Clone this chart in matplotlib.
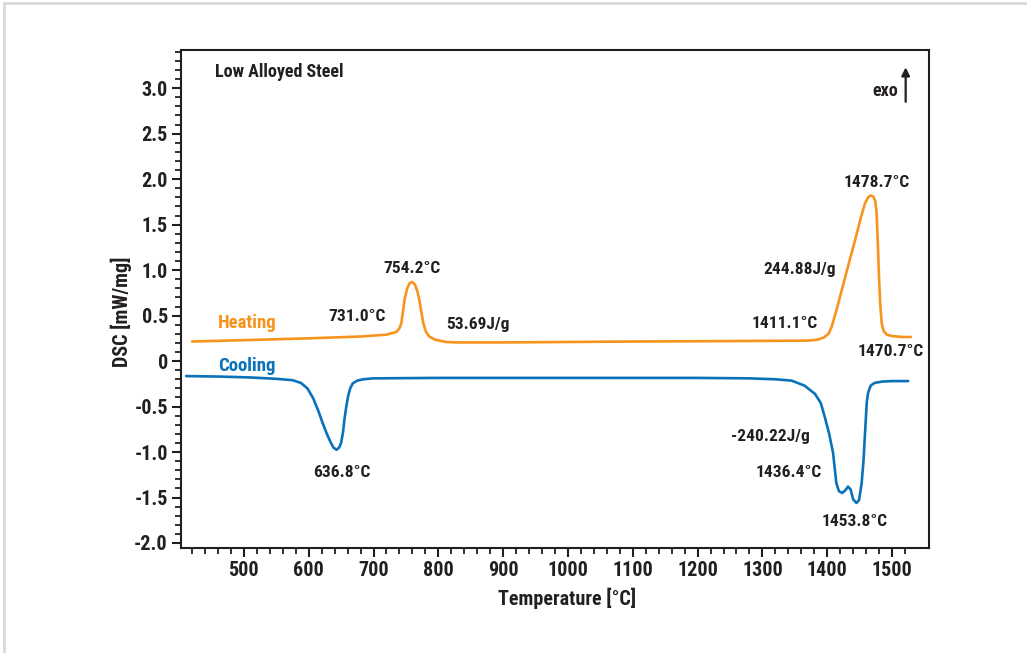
import matplotlib
matplotlib.use('Agg')
from matplotlib import pyplot as plt
from matplotlib.ticker import FuncFormatter
from matplotlib.lines import Line2D

plt.rcParams['font.family'] = ['Roboto Condensed', 'Fira Sans Condensed',
                               'DejaVu Sans']
plt.rcParams['font.weight'] = 'bold'
plt.rcParams['axes.labelweight'] = 'bold'

# heating curve (temperature, DSC)
heat_t = [420, 500, 600, 680, 720, 735, 740, 743, 745, 748, 752, 756, 760, 764,
          768, 771, 774, 777, 781, 786, 795, 812, 830, 900, 1000, 1100, 1200,
          1300, 1370, 1385, 1395, 1402, 1407, 1415, 1425, 1435, 1443, 1452,
          1458, 1463, 1467, 1471, 1474, 1476, 1478, 1480, 1482, 1484, 1487,
          1492, 1500, 1515, 1529]
heat_v = [0.215, 0.23, 0.25, 0.27, 0.29, 0.32, 0.36, 0.42, 0.52, 0.68, 0.80,
          0.86, 0.87, 0.84, 0.76, 0.66, 0.53, 0.41, 0.32, 0.27, 0.235, 0.21,
          0.205, 0.205, 0.21, 0.215, 0.218, 0.222, 0.225, 0.235, 0.26, 0.30,
          0.38, 0.58, 0.85, 1.12, 1.33, 1.58, 1.73, 1.80, 1.82, 1.81, 1.76,
          1.65, 1.30, 0.90, 0.60, 0.42, 0.33, 0.29, 0.275, 0.265, 0.265]

# cooling curve
cool_t = [411, 460, 510, 550, 575, 588, 598, 607, 615, 622, 628, 633, 638, 643,
          647, 650, 653, 655, 658, 661, 664, 668, 675, 684, 700, 800, 1000,
          1200, 1280, 1320, 1345, 1365, 1381, 1390, 1396, 1403, 1409, 1414,
          1418, 1423, 1428, 1432, 1436, 1440, 1445, 1449, 1453, 1456, 1459,
          1461, 1463, 1467, 1473, 1485, 1500, 1525]
cool_v = [-0.165, -0.17, -0.18, -0.195, -0.21, -0.24, -0.30, -0.41, -0.55,
          -0.69, -0.80, -0.88, -0.95, -0.975, -0.95, -0.90, -0.78, -0.65,
          -0.50, -0.38, -0.30, -0.245, -0.215, -0.20, -0.19, -0.185, -0.185,
          -0.185, -0.19, -0.20, -0.215, -0.27, -0.36, -0.46, -0.61, -0.80,
          -1.01, -1.34, -1.43, -1.45, -1.42, -1.38, -1.41, -1.52, -1.56,
          -1.53, -1.35, -1.09, -0.70, -0.45, -0.35, -0.27, -0.24, -0.225,
          -0.22, -0.22]

x_major = list(range(500, 1501, 100))
x_minor = list(range(420, 1521, 20))
y_major = [-2.0, -1.5, -1.0, -0.5, 0.0, 0.5, 1.0, 1.5, 2.0, 2.5, 3.0]
y_minor = [round(-2.0 + 0.1 * i, 1) for i in range(55)]

# annotations: text, temperature, DSC
notes = [
    ('731.0°C', 675, 0.485),
    ('754.2°C', 760, 1.02),
    ('53.69J/g', 861, 0.40),
    ('1411.1°C', 1335, 0.41),
    ('244.88J/g', 1357, 1.01),
    ('1478.7°C', 1477, 1.96),
    ('1470.7°C', 1498, 0.11),
    ('636.8°C', 651, -1.23),
    ('-240.22J/g', 1312, -0.83),
    ('1436.4°C', 1340, -1.22),
    ('1453.8°C', 1443, -1.76),
]

orange = '#F7941D'
blue = '#0A72BA'
dark = '#231F20'

fig = plt.figure(figsize=(10.27, 6.53), dpi=100)
ax = fig.add_axes([181 / 1027, 105 / 653, 748 / 1027, 498 / 653])

ax.plot(heat_t, heat_v, color=orange, lw=1.9, solid_capstyle='round')
ax.plot(cool_t, cool_v, color=blue, lw=1.9, solid_capstyle='round')

ax.set_xlim(403, 1557)
ax.set_ylim(-2.055, 3.42)

ax.set_xticks(x_major)
ax.set_xticks(x_minor, minor=True)
ax.set_yticks(y_major)
ax.set_yticks(y_minor, minor=True)
ax.yaxis.set_major_formatter(FuncFormatter(
    lambda v, p: '0' if abs(v) < 1e-9 else '%.1f' % v))

for s in ax.spines.values():
    s.set_linewidth(1.5)
    s.set_color(dark)
ax.tick_params(which='major', direction='out', length=6.5, width=1.5,
               labelsize=14.5, colors=dark, pad=3)
ax.tick_params(which='minor', direction='out', length=4, width=1.3,
               colors=dark)

ax.set_xlabel('Temperature [°C]', fontsize=14.5, color=dark)
ax.set_ylabel('DSC [mW/mg]', fontsize=14.5, color=dark)
ax.xaxis.set_label_coords(0.516, -0.08)
ax.yaxis.set_label_coords(-0.066, 0.474)

for txt, t, v in notes:
    ax.text(t, v, txt, fontsize=12.5, color=dark, ha='center', va='center')

ax.text(460, 0.42, 'Heating', fontsize=13.5, color=orange, ha='left',
        va='center')
ax.text(460, -0.055, 'Cooling', fontsize=13.5, color=blue, ha='left',
        va='center')
ax.text(0.045, 0.955, 'Low Alloyed Steel', transform=ax.transAxes,
        fontsize=13, color=dark, ha='left', va='center')
ax.text(1510, 2.97, 'exo', fontsize=13, color=dark, ha='right',
        va='center')
ax.annotate('', xy=(1521, 3.26), xytext=(1521, 2.82),
            arrowprops=dict(arrowstyle='-|>', color=dark, lw=1.6,
                            mutation_scale=12))

# light frame lines on the top and left edge of the picture
fig.add_artist(Line2D([4 / 1027, 1], [1 - 3 / 653, 1 - 3 / 653],
                      transform=fig.transFigure, color='#d9d9d9', lw=2))
fig.add_artist(Line2D([4 / 1027, 4 / 1027], [0, 1 - 3 / 653],
                      transform=fig.transFigure, color='#d9d9d9', lw=2))

fig.savefig('out.png', dpi=100)
